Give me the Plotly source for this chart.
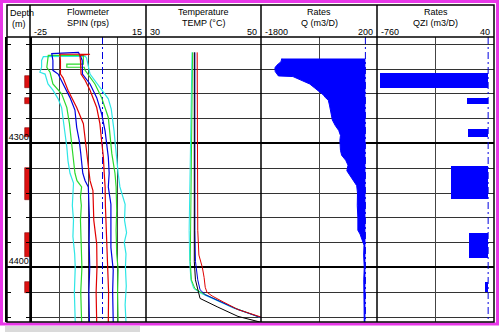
import plotly.graph_objects as go

# ---------------- data ----------------
# Spinner (SPIN, rps) passes: left branch (bottom -> top) and right branch (top -> bottom)
cyan_L_d = [4444, 4420, 4400, 4389, 4375, 4362, 4350, 4338, 4332, 4324, 4314, 4303, 4292, 4282, 4271, 4264, 4257, 4252, 4244, 4242.5, 4238.5, 4233, 4230]
cyan_L_v = [-9.4, -9.7, -9.4, -9.6, -10.2, -10.0, -10.4, -10.3, -10.0, -11.2, -11.9, -12.3, -12.9, -13.6, -14.1, -15.3, -17.1, -18.8, -19.8, -21.6, -21.0, -21.0, -20.4]
cyan_R_d = [4229.5, 4231, 4244, 4255, 4264, 4272, 4282, 4290, 4298, 4306, 4314, 4324, 4335, 4342, 4349, 4362, 4372, 4380, 4389, 4400, 4415, 4430, 4444]
cyan_R_v = [-6.0, -5.5, -4.3, -0.9, 2.0, 3.0, 3.7, 4.0, 4.3, 4.6, 5.1, 5.4, 6.0, 7.0, 7.8, 7.6, 8.3, 7.5, 8.1, 7.9, 8.2, 7.8, 8.1]

green_L_d = [4444, 4420, 4400, 4389, 4375, 4362, 4350, 4343, 4335, 4330, 4324, 4311, 4298, 4284, 4271, 4260, 4252, 4242.5, 4238.5, 4233, 4229]
green_L_v = [-7.2, -7.5, -7.1, -7.2, -7.4, -7.6, -7.3, -7.6, -7.2, -8.8, -9.5, -10.1, -10.6, -11.4, -12.3, -14.1, -17.1, -18.1, -19.2, -19.0, -18.7]
green_R_d = [4229, 4233, 4236, 4236, 4238.5, 4238.5, 4241, 4252, 4263, 4279, 4295, 4308, 4324, 4335, 4354, 4370, 4389, 4402, 4420, 4444]
green_R_v = [-6.6, -6.6, -6.6, -12.3, -12.3, -6.3, -6.0, -2.6, -0.3, 2.0, 2.6, 3.2, 4.3, 4.7, 4.9, 4.7, 4.9, 5.4, 5.2, 5.4]

blue_L_d = [4444, 4420, 4400, 4380, 4360, 4345, 4335, 4330, 4324, 4308, 4298, 4287, 4273, 4263, 4252, 4244, 4241, 4233, 4227.5]
blue_L_v = [-4.5, -4.7, -4.4, -4.6, -4.5, -4.7, -4.9, -6.0, -6.8, -7.5, -8.0, -8.9, -9.5, -11.2, -13.6, -15.3, -17.1, -17.1, -17.5]
blue_R_d = [4226.5, 4230, 4233, 4244, 4252, 4263, 4276, 4290, 4301, 4311, 4324, 4335, 4349, 4365, 4384, 4402, 4420, 4444]
blue_R_v = [-8.3, -7.5, -7.0, -6.9, -4.3, -2.0, -0.3, 0.9, 1.4, 2.0, 2.3, 2.0, 2.9, 2.8, 2.9, 3.7, 3.5, 3.7]

red_L_d = [4444, 4420, 4400, 4381, 4362, 4350, 4338, 4330, 4324, 4311, 4295, 4284, 4271, 4257, 4247, 4244, 4233, 4228]
red_L_v = [-2.0, -2.2, -1.9, -2.0, -3.0, -3.2, -3.3, -4.3, -4.6, -5.4, -6.0, -6.6, -8.9, -11.9, -13.6, -14.5, -14.5, -14.7]
red_R_d = [4228, 4229, 4233, 4244, 4249, 4257, 4271, 4284, 4298, 4311, 4324, 4335, 4350, 4362, 4381, 4400, 4420, 4444]
red_R_v = [-4.3, -7.8, -7.6, -7.4, -6.0, -4.3, -2.0, -0.9, -0.3, 0.3, 0.6, 0.9, 1.0, 1.2, 1.7, 2.0, 2.1, 2.0]

# Temperature (degC)
t_black_d = [4226.5, 4260, 4300, 4340, 4370, 4395, 4410, 4416, 4425, 4432, 4439.5, 4444]
t_black_v = [38.4, 38.4, 38.4, 38.3, 38.3, 38.4, 38.6, 38.9, 39.4, 42.5, 46.0, 49.8]
t_red_d = [4226.5, 4260, 4300, 4340, 4370, 4390, 4400, 4408, 4416, 4420, 4423, 4428, 4434, 4440]
t_red_v = [38.9, 38.9, 38.9, 38.9, 39.0, 39.2, 39.8, 40.1, 40.3, 40.6, 41.5, 43.5, 46.0, 50.0]
t_blue_d = [4226.5, 4260, 4300, 4340, 4370, 4395, 4410, 4418, 4422, 4433, 4440.5]
t_blue_v = [38.5, 38.5, 38.5, 38.4, 38.5, 38.6, 39.0, 39.4, 40.3, 45.5, 50.0]
t_cyan_d = [4226.5, 4260, 4300, 4340, 4370, 4395, 4410, 4417, 4421, 4433, 4440.5]
t_cyan_v = [38.0, 37.9, 37.8, 37.7, 37.5, 37.6, 37.8, 38.3, 39.6, 45.3, 50.0]
t_green_d = [4226.5, 4260, 4300, 4340, 4370, 4395, 4410, 4417, 4421, 4433, 4440.5]
t_green_v = [38.1, 38.0, 37.9, 37.8, 37.7, 37.7, 37.9, 38.5, 39.9, 45.6, 50.0]

# Cumulative rate Q (m3/D)
q_d = [4231.5, 4234, 4237, 4239, 4242, 4244, 4245.5, 4246, 4248, 4250, 4252, 4255, 4257, 4259, 4261, 4263,
       4265, 4269, 4273, 4277, 4281, 4285.5, 4289.5, 4293.5, 4297.5, 4305.5, 4309.5, 4313.5, 4317.5, 4322,
       4327.5, 4334, 4340, 4350, 4360, 4370, 4373, 4378, 4382, 4390, 4400, 4410, 4420, 4430, 4444]
q_v = [-1443, -1455, -1530, -1560, -1555, -1520, -1500, -1250, -1150, -1050, -960, -880, -830, -780, -720, -690,
       -640, -620, -600, -580, -570, -520, -460, -430, -440, -430, -410, -340, -300, -320,
       -236, -150, -136, -140, -130, -130, -93, -47, -24, -30, -20, -28, -22, -25, -20]

# Zonal contribution QZI (m3/D)
qzi_top = [4243.5, 4263, 4288, 4318.5, 4372.6, 4412]
qzi_bot = [4255.6, 4268.5, 4294.4, 4345, 4392, 4420]
qzi_v = [-740, -146, -139, -257, -132, -22]

# Perforations
perf_top = [4245.2, 4262.9, 4287.9, 4319.4, 4372.6, 4412.1]
perf_bot = [4255.6, 4268.5, 4294.4, 4345.2, 4391.9, 4420.2]

# Track titles and scales
titles = [("Flowmeter", "SPIN (rps)"), ("Temperature", "TEMP (°C)"), ("Rates", "Q (m3/D)"), ("Rates", "QZI (m3/D)")]
scale_min = ["-25", "30", "-1800", "-760"]
scale_max = ["15", "50", "200", "40"]
depth_ticks = [4300, 4400]
depth_top, depth_bot = 4214.1, 4444

# ---------------- layout helpers ----------------
W, H = 500, 333
def px(x): return x / W
def py(y): return 1 - y / H

XE = [7, 30, 146, 261, 377, 494]
Y_TOP, Y_HDR, Y_BOT = 5, 37, 322
FONT = "Arial, Liberation Sans, sans-serif"

CYAN, GREEN, BLUE, RED = "#2ee6e6", "#2bd92b", "#0000e0", "#e00000"

fig = go.Figure()

# zero reference lines (dash-dot)
for ax, yax in [("x", "y"), ("x3", "y"), ("x4", "y")]:
    fig.add_trace(go.Scatter(x=[0, 0], y=[depth_top, depth_bot], xaxis=ax, yaxis=yax, mode="lines",
                             line=dict(color=BLUE, width=1, dash="7px,3px,2px,3px"), hoverinfo="skip"))

def spin_trace(Ld, Lv, Rd, Rv, color):
    d = list(Ld) + list(Rd)
    v = list(Lv) + list(Rv)
    fig.add_trace(go.Scatter(x=v, y=d, xaxis="x", yaxis="y", mode="lines",
                             line=dict(color=color, width=1.2)))

spin_trace(cyan_L_d, cyan_L_v, cyan_R_d, cyan_R_v, CYAN)
spin_trace(green_L_d, green_L_v, green_R_d, green_R_v, GREEN)
spin_trace(blue_L_d, blue_L_v, blue_R_d, blue_R_v, BLUE)
spin_trace(red_L_d, red_L_v, red_R_d, red_R_v, RED)

for d, v, c in [(t_cyan_d, t_cyan_v, CYAN), (t_green_d, t_green_v, GREEN), (t_blue_d, t_blue_v, BLUE),
                (t_black_d, t_black_v, "black"), (t_red_d, t_red_v, RED)]:
    fig.add_trace(go.Scatter(x=v, y=d, xaxis="x2", yaxis="y", mode="lines", line=dict(color=c, width=1)))

fig.add_trace(go.Scatter(x=q_v, y=q_d, xaxis="x3", yaxis="y", mode="lines", fill="tozerox",
                         fillcolor="#0000ff", line=dict(color="#0000ff", width=1)))

qzi_c = [(a + b) / 2 for a, b in zip(qzi_top, qzi_bot)]
qzi_w = [b - a for a, b in zip(qzi_top, qzi_bot)]
fig.add_trace(go.Bar(y=qzi_c, x=qzi_v, width=qzi_w, base=0, orientation="h", xaxis="x4", yaxis="y",
                     marker=dict(color="#0000ff", line=dict(width=0))))

perf_c = [(a + b) / 2 for a, b in zip(perf_top, perf_bot)]
perf_w = [b - a for a, b in zip(perf_top, perf_bot)]
fig.add_trace(go.Bar(y=perf_c, x=[0.22] * len(perf_c), width=perf_w, base=0.78, orientation="h",
                     xaxis="x5", yaxis="y2", marker=dict(color="#dd1111", line=dict(color="#8a0000", width=0.6))))

common_x = dict(showticklabels=False, ticks="", zeroline=False, showline=False, fixedrange=True)
ydom = [py(Y_BOT), py(Y_HDR)]

fig.update_layout(
    width=W, height=H, margin=dict(l=0, r=0, t=0, b=0),
    paper_bgcolor="white", plot_bgcolor="white", showlegend=False, bargap=0,
    xaxis=dict(domain=[px(XE[1]), px(XE[2])], range=[-25, 15], anchor="y", showgrid=True,
               tick0=-15, dtick=10, gridcolor="#444", gridwidth=1, **common_x),
    xaxis2=dict(domain=[px(XE[2]), px(XE[3])], range=[30, 50], anchor="y", showgrid=False, **common_x),
    xaxis3=dict(domain=[px(XE[3]), px(XE[4])], range=[-1800, 200], anchor="y", showgrid=True,
                tickvals=[-800], gridcolor="#444", gridwidth=1, **common_x),
    xaxis4=dict(domain=[px(XE[4]), px(XE[5])], range=[-760, 40], anchor="y", showgrid=True,
                tickvals=[-360], gridcolor="#444", gridwidth=1, **common_x),
    xaxis5=dict(domain=[px(XE[0]), px(XE[1])], range=[0, 1], anchor="y2", showgrid=False, **common_x),
    yaxis=dict(domain=ydom, range=[depth_bot, depth_top], anchor="x", showticklabels=False, ticks="",
               zeroline=False, showline=False, showgrid=True, tick0=4300, dtick=100,
               gridcolor="black", gridwidth=2, automargin=False, fixedrange=True,
               minor=dict(tick0=4300, dtick=20, showgrid=True, gridcolor="#333", gridwidth=1)),
    yaxis2=dict(domain=ydom, range=[depth_bot, depth_top], anchor="x5", zeroline=False,
                showline=True, linecolor="black", linewidth=1.5, mirror="ticks",
                showgrid=True, gridcolor="black", gridwidth=2,
                tickvals=depth_ticks, ticktext=[str(t) for t in depth_ticks], ticks="",
                ticklabelposition="inside top", tickfont=dict(family=FONT, size=9, color="black"),
                automargin=False, fixedrange=True,
                minor=dict(tick0=4300, dtick=20, ticks="inside", ticklen=4, tickcolor="black",
                           tickwidth=1, showgrid=False)),
)

shapes = []
# magenta frame
shapes.append(dict(type="rect", xref="paper", yref="paper", x0=px(1.5), x1=px(497.5), y0=py(324), y1=py(1.5),
                   line=dict(color="#e838e8", width=3)))
# shadow
shapes.append(dict(type="rect", xref="paper", yref="paper", x0=px(5), x1=px(140), y0=py(332), y1=py(326),
                   line=dict(width=0), fillcolor="rgba(150,150,150,0.35)", layer="below"))
# black frame
shapes.append(dict(type="rect", xref="paper", yref="paper", x0=px(XE[0]), x1=px(XE[-1]), y0=py(Y_BOT),
                   y1=py(Y_TOP), line=dict(color="black", width=1.5)))
shapes.append(dict(type="line", xref="paper", yref="paper", x0=px(XE[0]), x1=px(XE[-1]), y0=py(Y_HDR),
                   y1=py(Y_HDR), line=dict(color="black", width=1.5)))
for xe in XE[1:-1]:
    shapes.append(dict(type="line", xref="paper", yref="paper", x0=px(xe), x1=px(xe), y0=py(Y_BOT),
                       y1=py(Y_TOP), line=dict(color="black", width=1.5)))
fig.update_layout(shapes=shapes)

ann = []
def text(x, y, s, anchor="center"):
    ann.append(dict(xref="paper", yref="paper", x=px(x), y=py(y), text=s, showarrow=False,
                    xanchor=anchor, yanchor="middle", font=dict(family=FONT, size=9, color="black")))

text(8, 13, "Depth", "left")
text(18.5, 24.5, "(m)")
for i, (t1, t2) in enumerate(titles):
    x0, x1 = XE[i + 1], XE[i + 2]
    xc = (x0 + x1) / 2
    text(xc, 12, t1)
    text(xc, 23, t2)
    text(x0 + 2, 32, scale_min[i], "left")
    text(x1 - 2, 32, scale_max[i], "right")
fig.update_layout(annotations=ann)

fig.write_html("out.html")
